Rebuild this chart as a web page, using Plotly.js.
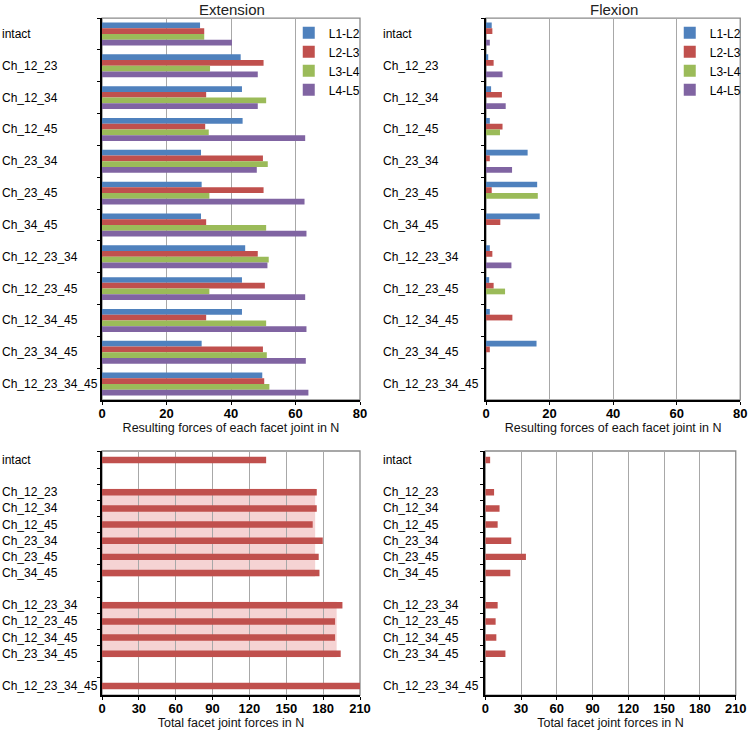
<!DOCTYPE html>
<html>
<head>
<meta charset="utf-8">
<script src="https://cdn.plot.ly/plotly-3.0.1.min.js"></script>
<style>html,body{margin:0;padding:0;background:#fff}#chart{width:750px;height:733px}</style>
</head>
<body>
<div id="chart"></div>
<script>
// ---- data ----
const cats = ["intact","Ch_12_23","Ch_12_34","Ch_12_45","Ch_23_34","Ch_23_45","Ch_34_45",
  "Ch_12_23_34","Ch_12_23_45","Ch_12_34_45","Ch_23_34_45","Ch_12_23_34_45"];
const segments = ["L1-L2","L2-L3","L3-L4","L4-L5"];
const segColors = ["#4f81bd","#c0504d","#9bbb59","#8064a2"];

const extL1L2 = [30.4,43.0,43.4,43.6,30.7,30.9,30.7,44.4,43.4,43.4,30.9,49.7];
const extL2L3 = [31.7,50.1,32.3,32.0,49.9,50.1,32.3,48.3,50.5,32.3,49.9,50.3];
const extL3L4 = [31.7,33.5,50.9,33.1,51.4,33.3,50.9,51.7,33.3,50.9,51.1,51.9];
const extL4L5 = [40.3,48.3,48.3,63.0,48.0,62.8,63.4,51.3,63.0,63.4,63.2,64.0];

const flxL1L2 = [1.8,0.7,1.6,1.2,13.1,16.1,16.9,1.2,1.0,1.2,15.9,0];
const flxL2L3 = [2.0,2.4,5.0,5.2,1.2,1.8,4.5,2.0,2.4,8.3,1.2,0];
const flxL3L4 = [0,0,0,4.4,0,16.3,0,0,6.0,0,0,0];
const flxL4L5 = [1.2,5.2,6.2,0,8.2,0,0,8.0,0,0,0,0];

// bottom charts: categories with blank separator rows
const totalCats = ["intact"," ","Ch_12_23","Ch_12_34","Ch_12_45","Ch_23_34","Ch_23_45","Ch_34_45",
  "  ","Ch_12_23_34","Ch_12_23_45","Ch_12_34_45","Ch_23_34_45","   ","Ch_12_23_34_45"];
const extTotal = [133.6,null,174.8,174.8,171.5,179.7,176.4,177.0,null,195.7,189.7,189.7,194.3,null,215];
const flxTotal = [4.1,null,7.4,12.0,10.4,21.8,34.1,21.0,null,10.4,8.7,9.3,16.9,null,0];
const bandLevels = [173.5,191.0];           // shaded bands in total extension chart
const bandRows = [["Ch_12_23","Ch_34_45"],["Ch_12_23_34","Ch_23_34_45"]];

const panelTitles = ["Extension","Flexion"];
const topXTitle = "Resulting forces of each facet joint in N";
const botXTitle = "Total facet joint forces in N";

// ---- build ----
const FONT = "Liberation Sans, Arial, sans-serif";
const extSeries = [extL1L2,extL2L3,extL3L4,extL4L5];
const flxSeries = [flxL1L2,flxL2L3,flxL3L4,flxL4L5];
const traces = [];
segments.forEach((s,i)=>{
  traces.push({type:"bar",orientation:"h",name:s,x:extSeries[i],y:cats,xaxis:"x",yaxis:"y",
    marker:{color:segColors[i]},legend:"legend",legendgroup:"a"});
});
segments.forEach((s,i)=>{
  traces.push({type:"bar",orientation:"h",name:s,x:flxSeries[i],y:cats,xaxis:"x2",yaxis:"y2",
    marker:{color:segColors[i]},legend:"legend2",legendgroup:"b"});
});
traces.push({type:"bar",orientation:"h",x:extTotal,y:totalCats,xaxis:"x3",yaxis:"y3",
  width:0.4,marker:{color:"#c0504d"},showlegend:false});
traces.push({type:"bar",orientation:"h",x:flxTotal,y:totalCats,xaxis:"x4",yaxis:"y4",
  width:0.4,marker:{color:"#c0504d"},showlegend:false});

const yTop = [0.4543,0.9754], yBot = [0.0518,0.3847];

function xax(dom, range, dtick, anchor, title){
  return {domain:dom, range:range, dtick:dtick, tick0:0, anchor:anchor,
    showgrid:true, gridcolor:"#a8a8a8", gridwidth:1, zeroline:false,
    showline:true, linecolor:"#000", linewidth:2, ticks:"outside", ticklen:3, tickcolor:"#000",
    ticklabelstandoff:-3, ticklabeloverflow:"allow",
    tickfont:{family:FONT,size:13,color:"#000",weight:"bold"},
    title:{text:title, font:{family:FONT,size:12.5,color:"#111"}, standoff:0}};
}
function yax(dom, anchor, arr){
  return {domain:dom, anchor:anchor, type:"category", categoryorder:"array", categoryarray:arr,
    autorange:"reversed", showgrid:false, zeroline:false, showticklabels:false,
    showline:true, linecolor:"#000", linewidth:2, ticks:"outside", ticklen:3, tickcolor:"#000",
    tickson:"boundaries", fixedrange:true};
}

const annotations = [];
const labelX = [0.0, 0.508];
[["y","y2"],["y3","y4"]].forEach((pair,row)=>{
  const arr = row===0 ? cats : totalCats;
  pair.forEach((yr,col)=>{
    arr.forEach(c=>{
      if(c.trim()==="") return;
      annotations.push({xref:"paper",yref:yr,x:labelX[col],y:c,text:c,showarrow:false,
        xanchor:"left",yanchor:"middle",font:{family:FONT,size:12,color:"#000"}});
    });
  });
});
annotations.push({xref:"paper",yref:"paper",x:0.309,y:1,text:panelTitles[0],showarrow:false,
  xanchor:"center",yanchor:"top",yshift:1,font:{family:FONT,size:15,color:"#222"}});
annotations.push({xref:"paper",yref:"paper",x:0.818,y:1,text:panelTitles[1],showarrow:false,
  xanchor:"center",yanchor:"top",yshift:1,font:{family:FONT,size:15,color:"#222"}});

const shapes = [];
["","2","3","4"].forEach(k=>{
  shapes.push({type:"rect",xref:"x"+k+" domain",yref:"y"+k+" domain",x0:0,x1:1,y0:0,y1:1,
    line:{color:"#8a8a8a",width:1.3},layer:"below"});
});
bandLevels.forEach((v,i)=>{
  const a = totalCats.indexOf(bandRows[i][0]), b = totalCats.indexOf(bandRows[i][1]);
  shapes.push({type:"rect",xref:"x3",yref:"y3",x0:0,x1:v,y0:a-0.22,y1:b+0.22,
    fillcolor:"rgba(228,140,140,0.38)",line:{width:0},layer:"below"});
});

const legendBase = {bgcolor:"rgba(255,255,255,0)",borderwidth:0,font:{family:FONT,size:12,color:"#000"},
  xanchor:"left",yanchor:"top",tracegroupgap:0,itemwidth:30};

const layout = {
  width:750,height:733,margin:{l:0,r:0,t:0,b:0},paper_bgcolor:"#fff",plot_bgcolor:"#fff",
  barmode:"group",bargap:0.28,bargroupgap:0,
  font:{family:FONT,color:"#000"},
  xaxis: xax([0.136,0.48],[0,80],20,"y",topXTitle),
  yaxis: yax(yTop,"x",cats),
  xaxis2: xax([0.648,0.987],[0,80],20,"y2",topXTitle),
  yaxis2: yax(yTop,"x2",cats),
  xaxis3: xax([0.136,0.48],[0,210],30,"y3",botXTitle),
  yaxis3: yax(yBot,"x3",totalCats),
  xaxis4: xax([0.647,0.981],[0,210],30,"y4",botXTitle),
  yaxis4: yax(yBot,"x4",totalCats),
  legend: Object.assign({x:0.385,y:0.975},legendBase),
  legend2: Object.assign({x:0.893,y:0.975},legendBase),
  annotations:annotations, shapes:shapes, showlegend:true
};

Plotly.newPlot("chart", traces, layout, {staticPlot:true, displayModeBar:false});
</script>
</body>
</html>
